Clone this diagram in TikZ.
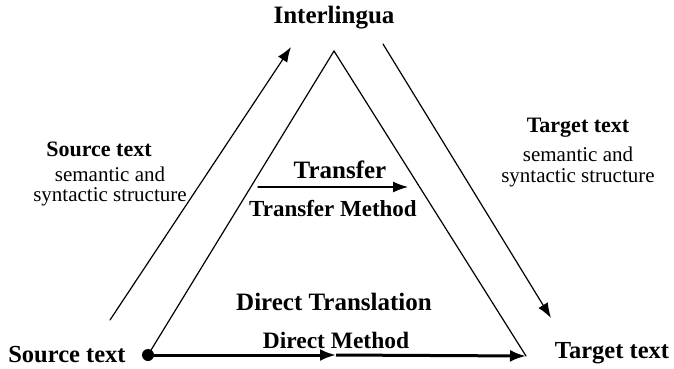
\documentclass[tikz,border=0pt]{standalone}
\usepackage{fontspec}
\setmainfont{Liberation Serif}
\usetikzlibrary{arrows.meta}
\begin{document}
\begin{tikzpicture}[x=1pt,y=-1pt,
  line/.style={line width=1.2pt, line cap=round},
  arr/.style={line, -{Latex[length=15pt,width=11pt]}},
  thick arr/.style={line width=3pt, -{Latex[length=16pt,width=12pt]}},
  title/.style={font=\fontsize{25}{28}\selectfont\bfseries, inner sep=0pt},
  label/.style={font=\fontsize{22}{25}\selectfont\bfseries, inner sep=0pt},
  biglabel/.style={font=\fontsize{24.5}{28}\selectfont\bfseries, inner sep=0pt},
  plain/.style={font=\fontsize{21}{24}\selectfont, inner sep=0pt}]
\useasboundingbox (0,0) rectangle (674,369);

% triangle corners and arrow end points
\coordinate (apex) at (334,51);
\coordinate (src) at (148,355);
\coordinate (tgt) at (526,356);
\coordinate (mid) at (336,355);
\coordinate (upA) at (110,320);
\coordinate (upB) at (291,47);
\coordinate (dnA) at (383,44);
\coordinate (dnB) at (551,318);
\coordinate (trA) at (258,187);
\coordinate (trB) at (408,187);

% the triangle
\draw[line] (src) -- (apex) -- (tgt);

% analysis and generation arrows
\draw[arr] (upA) -- (upB);
\draw[arr] (dnA) -- (dnB);

% transfer arrow
\draw[arr] (trA) -- (trB);

% direct translation arrow
\fill (src) circle (6pt);
\draw[thick arr] (src) -- (mid);
\draw[thick arr] (mid) -- (tgt);

% labels
\node[title] (inter) at (334,18) {Interlingua};
\node[label] (srcL) at (99,149) {Source text};
\node[plain] (srcS) at (110,174) {semantic and};
\node[plain] (srcT) at (110,197) {syntactic structure};
\node[label] (tgtL) at (578,128) {Target text};
\node[plain] (tgtS) at (578,154) {semantic and};
\node[plain] (tgtT) at (578,178) {syntactic structure};
\node[title] (trans) at (340,170) {Transfer};
\node[font=\fontsize{23}{26}\selectfont\bfseries, inner sep=0pt] (transM) at (333,209) {Transfer Method};
\node[title] (direct) at (334,302) {Direct Translation};
\node[font=\fontsize{23.5}{26}\selectfont\bfseries, inner sep=0pt] (directM) at (336,340) {Direct Method};
\node[biglabel] (srcB) at (67,355) {Source text};
\node[biglabel] (tgtB) at (612,353) {Target text};
\end{tikzpicture}
\end{document}
